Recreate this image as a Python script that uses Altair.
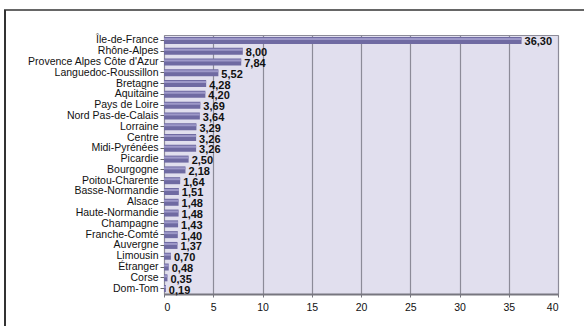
import altair as alt
import pandas as pd

regions = [
    "Île-de-France", "Rhône-Alpes", "Provence Alpes Côte d'Azur",
    "Languedoc-Roussillon", "Bretagne", "Aquitaine", "Pays de Loire",
    "Nord Pas-de-Calais", "Lorraine", "Centre", "Midi-Pyrénées", "Picardie",
    "Bourgogne", "Poitou-Charente", "Basse-Normandie", "Alsace",
    "Haute-Normandie", "Champagne", "Franche-Comté", "Auvergne", "Limousin",
    "Étranger", "Corse", "Dom-Tom",
]
shares = [
    36.30, 8.00, 7.84, 5.52, 4.28, 4.20, 3.69, 3.64, 3.29, 3.26, 3.26, 2.50,
    2.18, 1.64, 1.51, 1.48, 1.48, 1.43, 1.40, 1.37, 0.70, 0.48, 0.35, 0.19,
]
x_ticks = [0, 5, 10, 15, 20, 25, 30, 35, 40]

df = pd.DataFrame({"region": regions, "share": shares})
df["label"] = [f"{v:.2f}".replace(".", ",") for v in shares]

FONT = "Liberation Sans"

y_enc = alt.Y(
    "region:N", sort=regions, title=None,
    scale=alt.Scale(paddingInner=0, paddingOuter=0),
    axis=alt.Axis(
        labelFont=FONT, labelFontSize=10.5, labelColor="#111111",
        tickSize=4, tickColor="#666666", domain=False, grid=False,
        labelPadding=2,
    ),
)
x_enc = alt.X(
    "share:Q", title=None,
    scale=alt.Scale(domain=[0, 40], nice=False),
    axis=alt.Axis(
        values=x_ticks, labelFont=FONT, labelFontSize=10.5,
        labelColor="#111111", grid=True, gridColor="#8c8b98",
        gridWidth=1.2, domainColor="#77767f", domainWidth=2,
        tickColor="#77767f", tickSize=3, labelPadding=5,
    ),
)

bars = alt.Chart(df).mark_bar(size=7, color="#6f6aa2").encode(x=x_enc, y=y_enc)
shine = alt.Chart(df).mark_bar(size=2, yOffset=-1.5, color="#9d98c8").encode(
    x="share:Q", y=alt.Y("region:N", sort=regions)
)
values = alt.Chart(df).mark_text(
    align="left", baseline="middle", dx=3, dy=2,
    font=FONT, fontSize=11, fontWeight="bold", color="#111111",
).encode(x="share:Q", y=alt.Y("region:N", sort=regions), text="label:N")

frame_df = pd.DataFrame({"k": [0]})
frame_left = alt.Chart(frame_df).mark_rule(color="#333333", strokeWidth=2).encode(
    x=alt.value(-159), y=alt.value(-25), y2=alt.value(300)
)
frame_top = alt.Chart(frame_df).mark_rule(color="#333333", strokeWidth=1.5).encode(
    x=alt.value(-160), x2=alt.value(440), y=alt.value(-25)
)

chart = (
    alt.layer(bars, shine, values, frame_left, frame_top)
    .properties(
        width=394, height=259,
        autosize=alt.AutoSizeParams(type="none"),
        padding={"left": 164, "top": 35, "right": 26, "bottom": 32},
        background="white",
    )
    .configure_view(fill="#e1dfee", stroke="#8c8b98", strokeWidth=1)
)

chart.save("out.html", embed_options={"renderer": "svg", "actions": False})
